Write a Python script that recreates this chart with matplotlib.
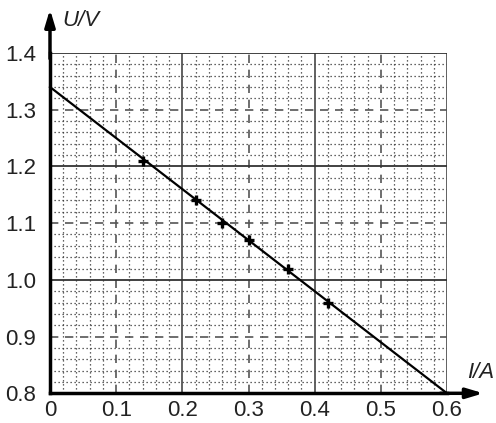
import matplotlib
matplotlib.use("Agg")
import matplotlib.pyplot as plt
import numpy as np

# data
current = [0.14, 0.22, 0.26, 0.30, 0.36, 0.42]
voltage = [1.21, 1.14, 1.10, 1.07, 1.02, 0.96]
fit_x = [0.0, 0.6]
fit_y = [1.34, 0.80]
x_ticks = [0, 0.1, 0.2, 0.3, 0.4, 0.5, 0.6]
x_labels = ["0", "0.1", "0.2", "0.3", "0.4", "0.5", "0.6"]
y_ticks = [0.8, 0.9, 1.0, 1.1, 1.2, 1.3, 1.4]
y_labels = ["0.8", "0.9", "1.0", "1.1", "1.2", "1.3", "1.4"]

plt.rcParams['font.family'] = ['Liberation Sans', 'DejaVu Sans']

fig = plt.figure(figsize=(4.96, 4.23), dpi=100)
ax = fig.add_axes([50/496, (423-393.3)/423, 397/496, (393.3-53)/423])
ax.set_xlim(0, 0.6)
ax.set_ylim(0.8, 1.4)

# minor dotted grid
for v in np.arange(0.02, 0.6, 0.02):
    if abs(v*10 - round(v*10)) > 1e-6:
        ax.axvline(v, color='#333333', lw=0.9, ls=(0, (1, 2.2)), zorder=1)
for v in np.arange(0.82, 1.4, 0.02):
    if abs(v*10 - round(v*10)) > 1e-6:
        ax.axhline(v, color='#333333', lw=0.9, ls=(0, (1, 2.2)), zorder=1)
# major lines
for i, v in enumerate([0.1, 0.2, 0.3, 0.4, 0.5, 0.6]):
    if i % 2 == 0:
        ax.axvline(v, color='#555555', lw=1.2, ls=(0, (5, 4)), zorder=2)
    else:
        ax.axvline(v, color='#555555', lw=1.3, zorder=2)
for i, v in enumerate([0.9, 1.0, 1.1, 1.2, 1.3, 1.4]):
    if i % 2 == 0:
        ax.axhline(v, color='#555555', lw=1.2, ls=(0, (5, 4)), zorder=2)
    else:
        ax.axhline(v, color='#333333', lw=1.3, zorder=2)

ax.plot(fit_x, fit_y, color='black', lw=1.6, zorder=4, clip_on=False)
ax.plot(current, voltage, ls='none', marker='+', ms=7, mew=2.4, color='black', zorder=5)

for s in ['top', 'right']:
    ax.spines[s].set_visible(False)
for s in ['left', 'bottom']:
    ax.spines[s].set_linewidth(2.5)
    ax.spines[s].set_zorder(6)

ax.set_xticks(x_ticks)
ax.set_xticklabels(x_labels)
ax.set_yticks(y_ticks)
ax.set_yticklabels(y_labels)
ax.tick_params(length=0, labelsize=16, colors='#222222')
ax.tick_params(axis='x', pad=4.5)
ax.tick_params(axis='y', pad=10)

# arrows
ax.annotate('', xy=(0, 1.477), xytext=(0, 1.39),
            xycoords='data', annotation_clip=False,
            arrowprops=dict(arrowstyle='-|>,head_length=1.0,head_width=0.3', color='black', lw=2.5, shrinkA=0, shrinkB=0))
ax.annotate('', xy=(0.655, 0.8), xytext=(0.59, 0.8),
            xycoords='data', annotation_clip=False,
            arrowprops=dict(arrowstyle='-|>,head_length=1.0,head_width=0.3', color='black', lw=2.5, shrinkA=0, shrinkB=0))

fig.text(62/496, 1 - 20/423, 'U/V', fontsize=16, style='italic', ha='left', va='center', color='#222222')
fig.text(467/496, 1 - 372/423, 'I/A', fontsize=16, style='italic', ha='left', va='center', color='#222222')

fig.savefig('out.png', dpi=100)
